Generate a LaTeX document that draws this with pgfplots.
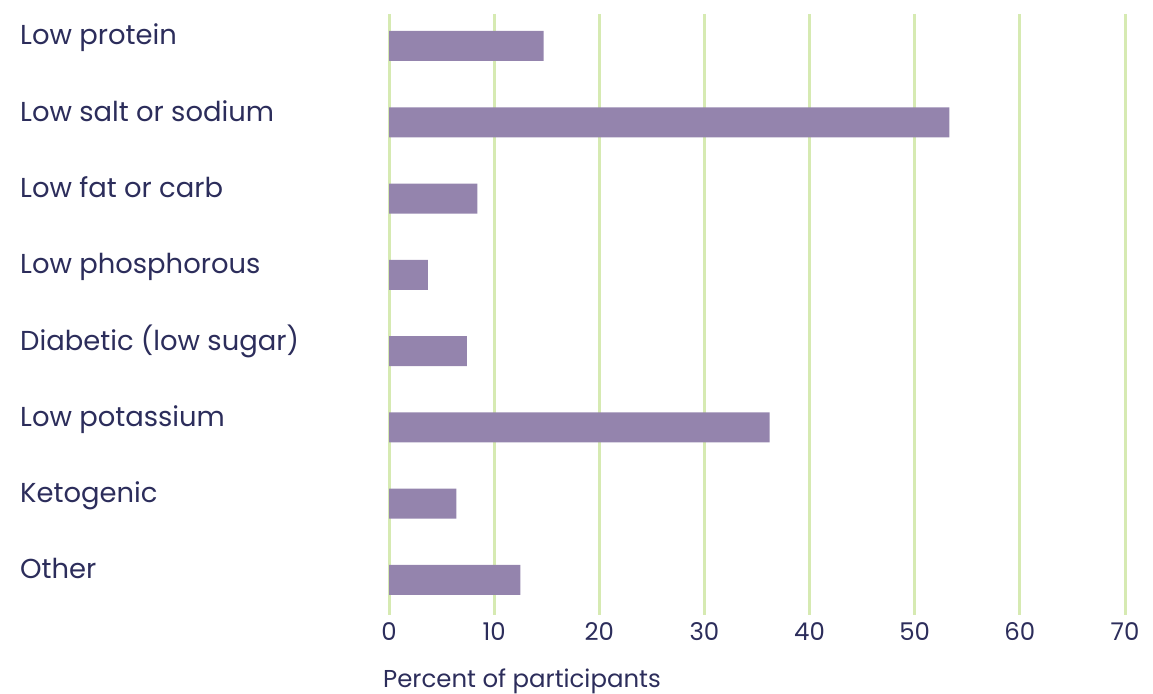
\documentclass[border=0pt]{standalone}
\usepackage{fontspec}
\setmainfont{Poppins}
\usepackage{pgfplots}
\pgfplotsset{compat=1.18}

\definecolor{barcol}{HTML}{9484AD}
\definecolor{gridcol}{HTML}{D6EAB2}
\definecolor{txtcol}{HTML}{2C2D5B}

\begin{document}
\begin{tikzpicture}
\useasboundingbox (0,0) rectangle (1153bp,694bp);
\begin{axis}[
    at={(389bp,79bp)}, anchor=south west,
    scale only axis,
    width=736bp, height=601bp,
    xbar, bar width=30bp,
    xmin=0, xmax=70,
    ymin=-0.419, ymax=7.459,
    y dir=reverse,
    xtick={0,10,...,70},
    ytick={0,...,7},
    yticklabels={Low protein, Low salt or sodium, Low fat or carb, Low phosphorous,
      Diabetic (low sugar), Low potassium, Ketogenic, Other},
    axis line style={draw=none},
    major tick length=0pt,
    xmajorgrids,
    grid style={gridcol, line width=3bp},
    /pgf/number format/assume math mode=true,
    xticklabel style={font=\fontsize{24.5}{28}\selectfont, text=txtcol, anchor=base, inner sep=0pt, yshift=-25bp},
    yticklabel style={font=\fontsize{27.5}{32}\selectfont, text=txtcol, anchor=base west, inner sep=0pt, xshift=-369bp, yshift=1bp},
    xlabel={Percent of participants},
    xlabel style={at={(axis description cs:0,0)}, anchor=base west, inner sep=0pt,
      xshift=-6bp, yshift=-72bp, font=\fontsize{24.5}{28}\selectfont, text=txtcol},
  ]
  \addplot[fill=barcol, draw=none] coordinates {
    (14.7,0) (53.3,1) (8.4,2) (3.7,3) (7.4,4) (36.2,5) (6.4,6) (12.5,7)
  };
\end{axis}
\end{tikzpicture}
\end{document}
